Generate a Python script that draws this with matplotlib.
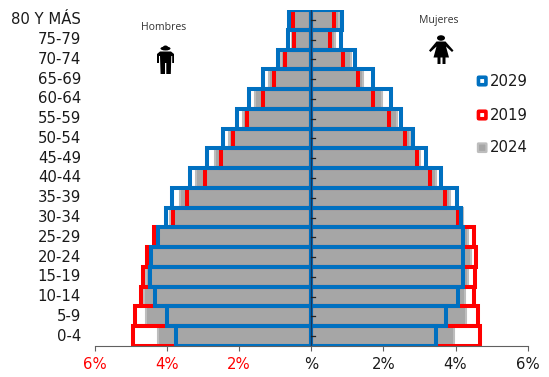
import matplotlib
matplotlib.use("Agg")
import matplotlib.pyplot as plt
from matplotlib.patches import Polygon, Ellipse, FancyBboxPatch
from matplotlib.transforms import Affine2D

ages = ["0-4", "5-9", "10-14", "15-19", "20-24", "25-29", "30-34", "35-39", "40-44",
        "45-49", "50-54", "55-59", "60-64", "65-69", "70-74", "75-79", "80 Y MÁS"]

# percent of total population, youngest group first
men_2024 = [4.24, 4.57, 4.62, 4.57, 4.47, 4.30, 3.92, 3.64, 3.18, 2.67, 2.28, 1.90, 1.55, 1.17, 0.82, 0.54, 0.60]
men_2019 = [4.94, 4.87, 4.72, 4.65, 4.55, 4.34, 3.83, 3.44, 2.94, 2.49, 2.16, 1.77, 1.33, 1.02, 0.72, 0.46, 0.50]
men_2029 = [3.75, 3.98, 4.33, 4.47, 4.43, 4.25, 4.03, 3.86, 3.35, 2.89, 2.43, 2.04, 1.72, 1.32, 0.92, 0.63, 0.62]

women_2024 = [3.95, 4.28, 4.27, 4.35, 4.42, 4.36, 4.22, 3.84, 3.47, 3.02, 2.73, 2.39, 1.97, 1.43, 1.11, 0.65, 0.77]
women_2019 = [4.67, 4.62, 4.51, 4.55, 4.58, 4.51, 4.07, 3.70, 3.28, 2.92, 2.59, 2.17, 1.72, 1.31, 0.87, 0.52, 0.63]
women_2029 = [3.46, 3.74, 4.07, 4.21, 4.21, 4.20, 4.14, 4.03, 3.60, 3.18, 2.81, 2.50, 2.20, 1.71, 1.21, 0.82, 0.85]

x_ticks = [-6, -4, -2, 0, 2, 4, 6]
x_labels = ["6%", "4%", "2%", "%", "2%", "4%", "6%"]

BLUE = "#0070c0"
RED = "#ff0000"
GREY = "#a6a6a6"
EDGE = "#bdbdbd"
TEXT = "#1a1a1a"
W, H = 549, 377

fig = plt.figure(figsize=(W / 100, H / 100), dpi=100)
ax = fig.add_axes([94.5 / W, 1 - 346 / H, 433.2 / W, 336 / H])
ypos = list(range(len(ages)))

# pixel coordinates measured from the top-left corner
page = Affine2D().scale(1, -1).translate(0, H)


def pyramid(men, women, **style):
    ax.barh(ypos, [-v for v in men], height=1, **style)
    ax.barh(ypos, women, height=1, **style)


pyramid(men_2024, women_2024, color=GREY, edgecolor=EDGE, linewidth=1.5, zorder=2)
pyramid(men_2019, women_2019, facecolor="none", edgecolor=RED, linewidth=2.9, zorder=3)
pyramid(men_2029, women_2029, facecolor="none", edgecolor=BLUE, linewidth=2.9, zorder=4)

ax.axvline(0, color="#17375e", linewidth=1.0, zorder=5)
ax.set_xlim(-6, 6)
ax.set_ylim(-0.5, 16.5)
for spine in ["top", "left", "right"]:
    ax.spines[spine].set_visible(False)
ax.spines["bottom"].set_color("#606060")
ax.spines["bottom"].set_zorder(6)

ax.set_xticks(x_ticks)
ax.set_xticklabels(x_labels, fontsize=10.7, color=TEXT)
for lab in ax.get_xticklabels()[:3]:
    lab.set_color(RED)
ax.tick_params(axis="x", length=3.6, width=0.8, color="#606060", pad=4)
ax.set_yticks([])

# age labels sit at the far left, small ticks run along the centre line
for y, age in zip(ypos, ages):
    py = 346 - (y + 0.5) * 336 / 17
    fig.text(81 / W, 1 - py / H, age, ha="right", va="center", fontsize=10.7, color=TEXT)
    ax.plot([0, 0.11], [y, y], color="#222222", linewidth=0.9, zorder=5)

fig.text(163.5 / W, 1 - 28 / H, "Hombres", ha="center", va="center", fontsize=7.6,
         family="Open Sans", color="#333333")
fig.text(439 / W, 1 - 21 / H, "Mujeres", ha="center", va="center", fontsize=7.6,
         family="Open Sans", color="#333333")


def shape(points):
    fig.add_artist(Polygon(points, closed=True, facecolor="black", edgecolor="none", transform=page))


def head(x, y, w, h):
    fig.add_artist(Ellipse((x, y), w, h, facecolor="black", edgecolor="none", transform=page))


# man icon: body with legs, arms apart
shape([(160, 51.5), (171, 51.5), (174, 54), (174, 63), (172.2, 63), (172.2, 56), (171.3, 56),
       (170.8, 74), (166.3, 74), (166.3, 63), (165, 63), (165, 74), (160.6, 74),
       (160, 56), (159, 56), (159, 63), (157, 63), (157, 54)])
head(165.5, 48.5, 10, 4)
head(165.5, 47.5, 5, 4)

# woman icon: arms held out, flared skirt and two legs
shape([(436.5, 41.5), (445.5, 41.5), (453.5, 50.5), (452, 52), (446, 46.5), (449, 57.5), (445.5, 57.5),
       (445.5, 64), (442.5, 64), (442.5, 57.5), (440.5, 57.5), (440.5, 64), (437.5, 64), (437.5, 57.5),
       (433.5, 57.5), (436.5, 46.5), (430.5, 52), (429, 50.5)])
head(441, 38, 8, 5.5)

# legend keys
legend_years = ["2029", "2019", "2024"]
legend_y = [81, 115, 147.7]
legend_edges = [BLUE, RED, EDGE]
legend_faces = ["white", "white", GREY]
legend_sizes = [7.5, 7.5, 8.5]
legend_widths = [2.6, 2.6, 1.6]
for year, y, edge, face, s, lw in zip(legend_years, legend_y, legend_edges, legend_faces,
                                      legend_sizes, legend_widths):
    fig.add_artist(FancyBboxPatch((482.2 - s / 2, y - s / 2), s, s,
                                  boxstyle="round,pad=0,rounding_size=0.6",
                                  facecolor=face, edgecolor=edge, linewidth=lw, transform=page))
    fig.text(490 / W, 1 - y / H, year, ha="left", va="center", fontsize=10.7, color=TEXT)

fig.savefig("out.png", dpi=100)
